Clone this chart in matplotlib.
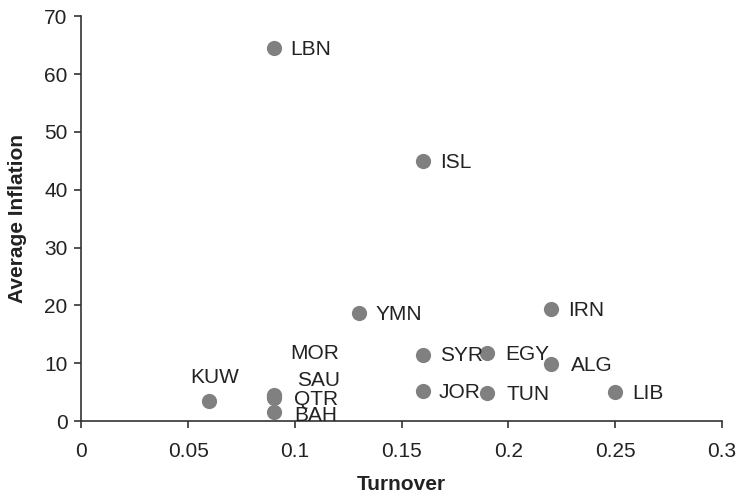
import matplotlib
matplotlib.use("Agg")
import matplotlib.pyplot as plt

plt.rcParams['font.family'] = ['Liberation Sans', 'DejaVu Sans']

countries = ["LBN", "ISL", "YMN", "IRN", "SYR", "EGY", "ALG", "JOR", "TUN", "LIB",
             "KUW", "MOR", "SAU", "QTR", "BAH"]
turnover = [0.09, 0.16, 0.13, 0.22, 0.16, 0.19, 0.22, 0.16, 0.19, 0.25,
            0.06, 0.09, 0.09, 0.09, 0.09]
inflation = [64.5, 45.0, 18.7, 19.4, 11.4, 11.8, 9.8, 5.2, 4.8, 5.0,
             3.5, 4.5, 4.3, 3.9, 1.5]

# label offsets in points (dx, dy, ha)
offsets = {
    "KUW": (4, 17, "center"),
    "MOR": (12, 30, "left"),
    "SAU": (17, 11, "left"),
    "QTR": (15, -1, "left"),
    "BAH": (15, -2, "left"),
    "JOR": (11, -1, "left"),
    "TUN": (14, -1, "left"),
    "SYR": (12, 0, "left"),
    "EGY": (13, -1, "left"),
    "ALG": (14, -1, "left"),
}

fig = plt.figure(figsize=(7.39, 4.93), dpi=100)
ax = fig.add_axes([0.11, 0.146, 0.867, 0.821])

ax.scatter(turnover, inflation, s=120, color='#808080', zorder=3, linewidths=0)

for name, x, y in zip(countries, turnover, inflation):
    dx, dy, ha = offsets.get(name, (12, -1, "left"))
    ax.annotate(name, (x, y), xytext=(dx, dy), textcoords='offset points',
                ha=ha, va='center', fontsize=15, color='#222222')

ax.set_xlim(0, 0.3)
ax.set_ylim(0, 70)
ax.set_xticks([0, 0.05, 0.1, 0.15, 0.2, 0.25, 0.3])
ax.set_xticklabels(["0", "0.05", "0.1", "0.15", "0.2", "0.25", "0.3"])
ax.set_yticks(range(0, 71, 10))

for s in ['top', 'right']:
    ax.spines[s].set_visible(False)
for s in ['left', 'bottom']:
    ax.spines[s].set_color('#333333')
    ax.spines[s].set_linewidth(1.2)

ax.tick_params(axis='both', labelsize=15, colors='#333333', labelcolor='#222222',
               direction='out', length=5, width=1.2)
ax.tick_params(axis='x', pad=10)
ax.tick_params(axis='y', pad=5)
ax.set_xlabel("Turnover", fontsize=15, fontweight='bold', color='#222222', labelpad=10)
ax.set_ylabel("Average Inflation", fontsize=15, fontweight='bold', color='#222222', labelpad=12)

fig.savefig("out.png", dpi=100)
